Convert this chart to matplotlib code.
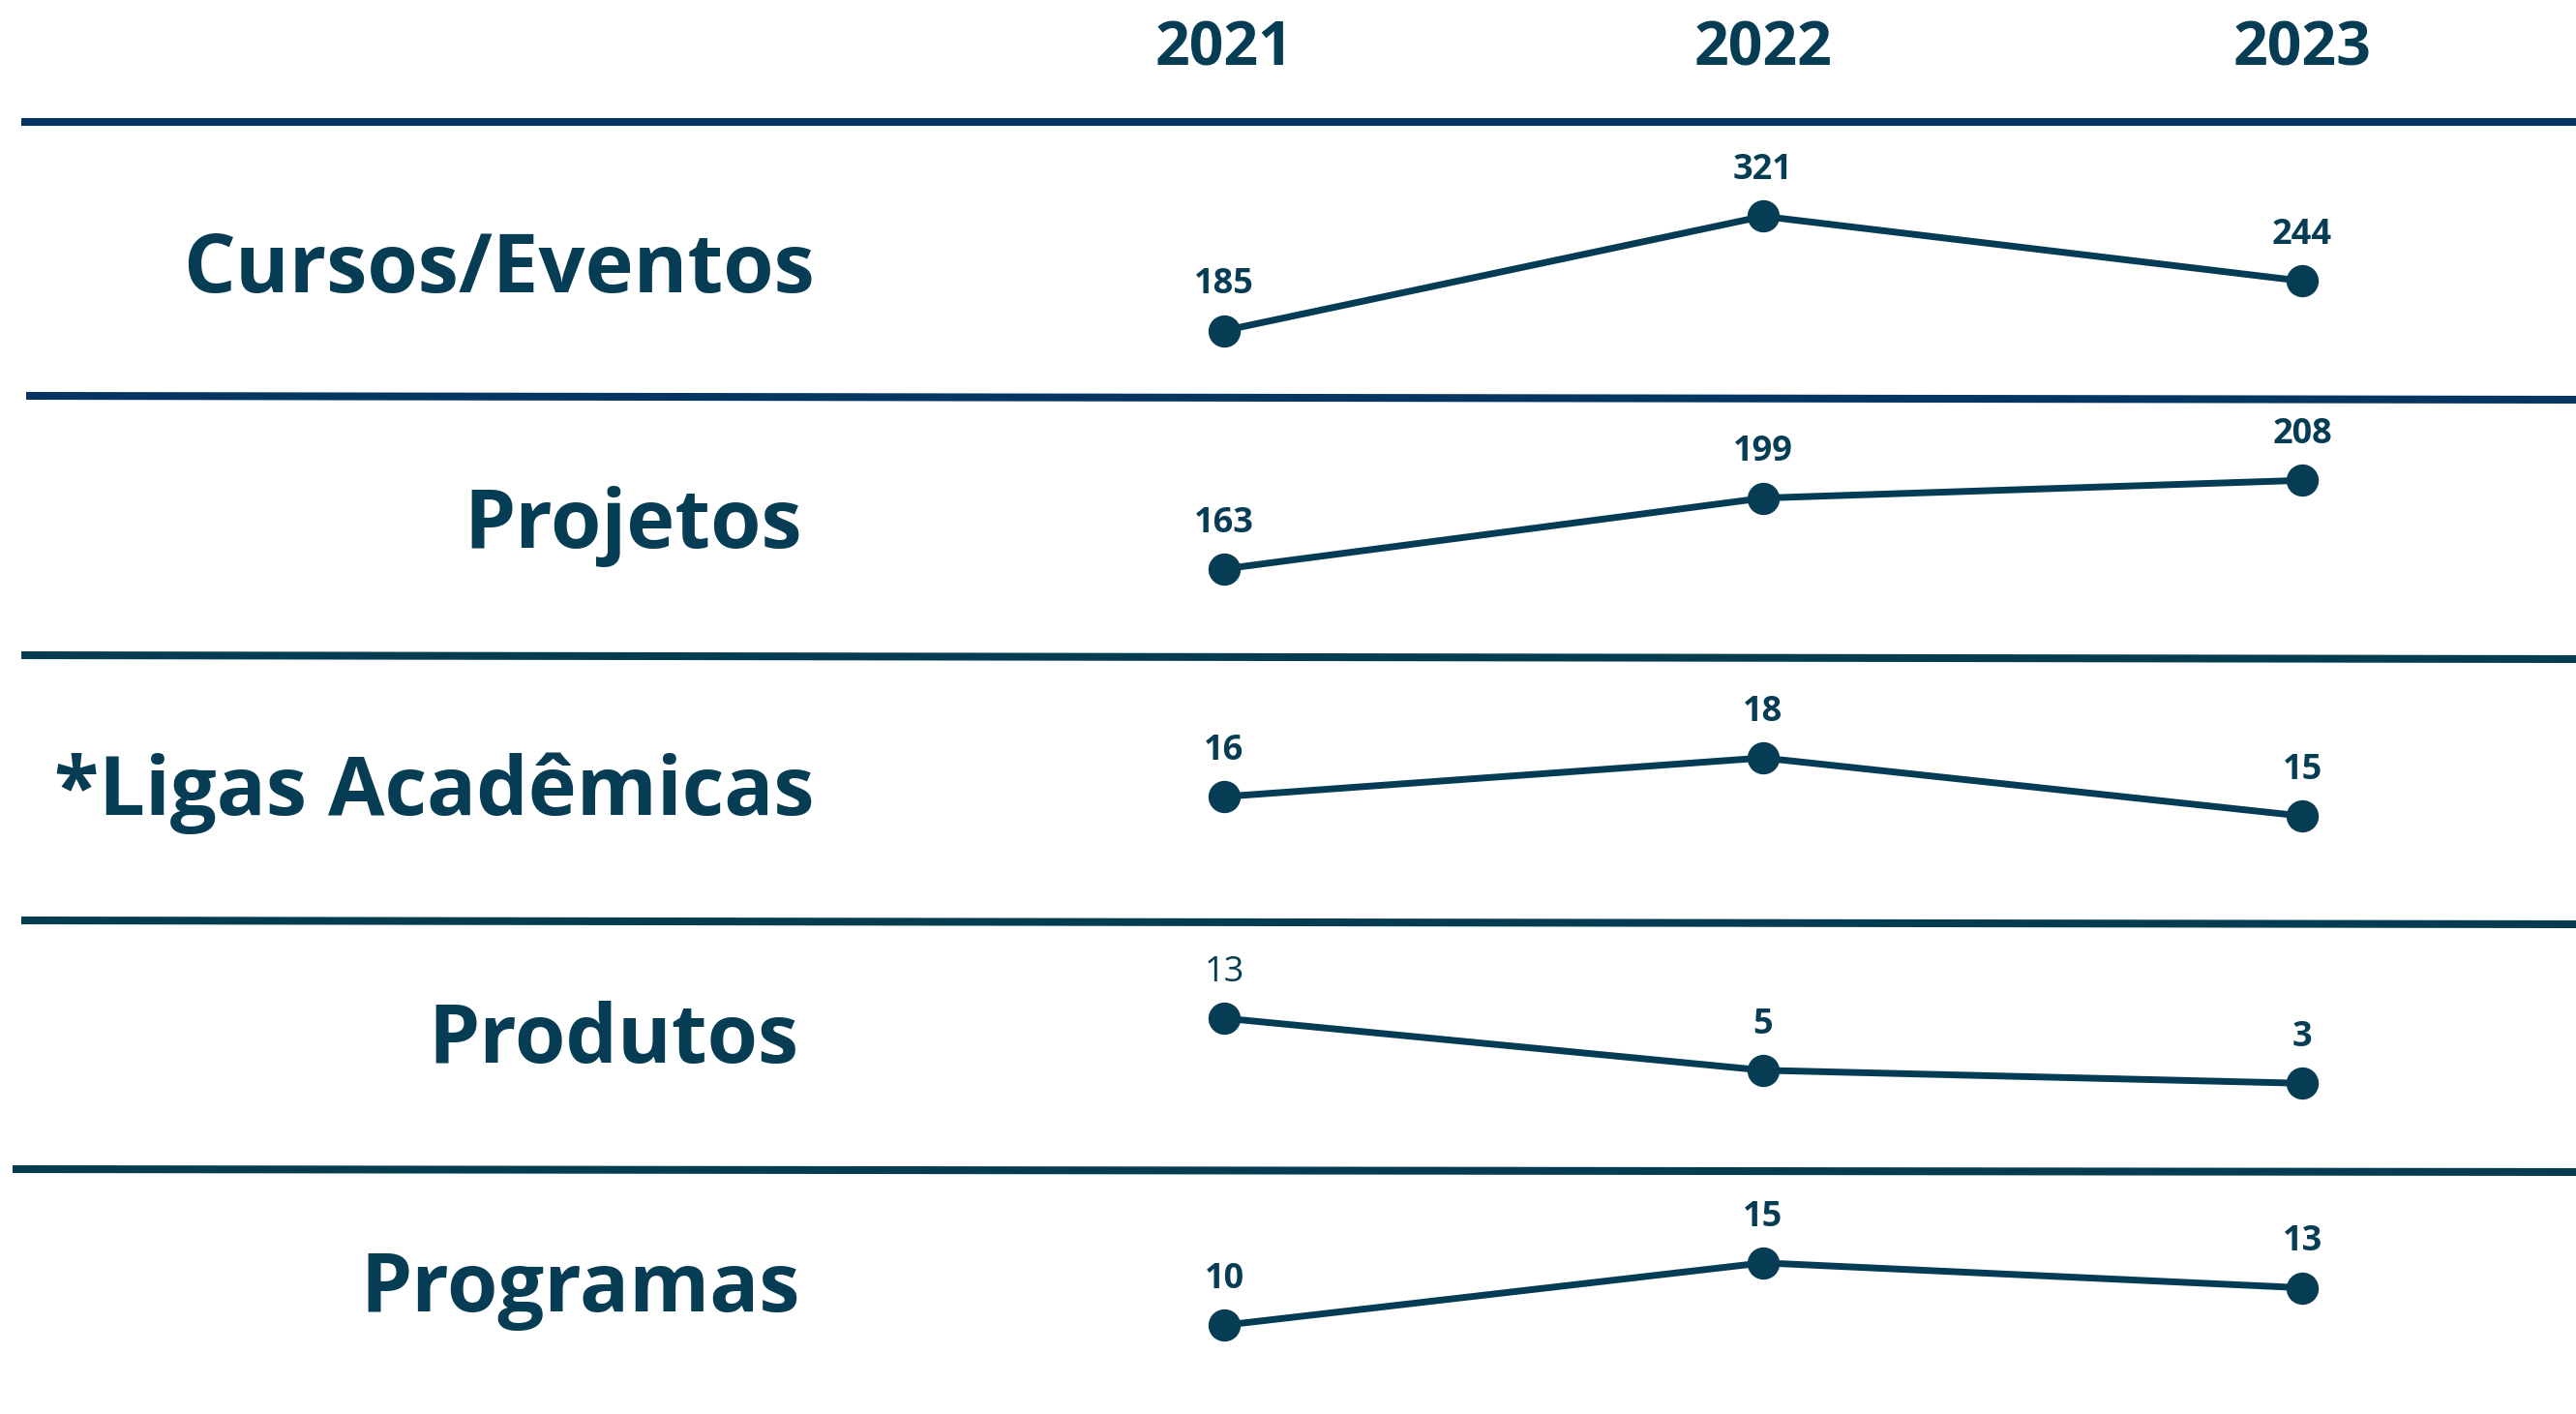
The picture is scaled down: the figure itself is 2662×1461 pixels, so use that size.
import matplotlib
matplotlib.use('Agg')
import matplotlib.pyplot as plt
from matplotlib.lines import Line2D

plt.rcParams['font.family'] = ['Open Sans', 'DejaVu Sans']

years = [2021, 2022, 2023]
categories = ['Cursos/Eventos', 'Projetos', '*Ligas Acadêmicas', 'Produtos', 'Programas']
cursos = [185, 321, 244]
projetos = [163, 199, 208]
ligas = [16, 18, 15]
produtos = [13, 5, 3]
programas = [10, 15, 13]
series = [cursos, projetos, ligas, produtos, programas]

# layout (pixels of the 2662x1461 canvas)
W, H = 2662, 1461
text_col = '#063D55'
line_col = '#053C55'
bands = [124, 409, 679, 954, 1210, 1461]
ylims = [(107.4, 435.5), (118.2, 250.9), (9.46, 23.2), (-10.5, 27.6), (2.88, 22.36)]
xlim = (2018.729, 2023.508)
label_right = [842, 829, 842, 825, 827]
label_base = [302, 566, 842, 1098, 1355]
seps = [((22, 126), (2662, 126), '#053561'),
        ((27, 409), (2662, 413), '#053561'),
        ((22, 677), (2662, 681), '#053C52'),
        ((22, 951), (2662, 955), '#053C52'),
        ((13, 1208), (2662, 1211), '#053C52')]

fig = plt.figure(figsize=(W / 100, H / 100), dpi=100)
fig.patch.set_facecolor('white')

def fx(x):
    return x / W

def fy(y):
    return 1 - y / H

# year headers
hax = fig.add_axes([0, fy(124), 1, 124 / H])
hax.set_xlim(*xlim)
hax.set_ylim(0, 1)
hax.axis('off')
for yr in years:
    hax.text(yr, 1 - 67 / 124, str(yr), ha='center', va='baseline',
             fontsize=45, fontweight='bold', color=text_col)

for i, vals in enumerate(series):
    top, bot = bands[i], bands[i + 1]
    ax = fig.add_axes([0, fy(bot), 1, (bot - top) / H])
    ax.set_xlim(*xlim)
    ax.set_ylim(*ylims[i])
    ax.axis('off')
    ax.plot(years, vals, color=line_col, lw=5, marker='o', ms=23,
            mfc=text_col, mec=text_col, solid_capstyle='butt', clip_on=False)
    for j, (yr, v) in enumerate(zip(years, vals)):
        w = 'normal' if (i == 3 and j == 0) else 'bold'
        ax.annotate(str(v), (yr, v), xytext=(0, 34), textcoords='offset points',
                    ha='center', va='center', fontsize=26, fontweight=w,
                    color=text_col)
    fig.text(fx(label_right[i]), fy(label_base[i]), categories[i], ha='right',
             va='baseline', fontsize=61, fontweight='bold', color=text_col)

for (x0, y0), (x1, y1), c in seps:
    fig.add_artist(Line2D([fx(x0), fx(x1)], [fy(y0), fy(y1)], color=c, lw=5.8,
                          transform=fig.transFigure, solid_capstyle='butt'))

fig.savefig('out.png', dpi=100, facecolor='white')
